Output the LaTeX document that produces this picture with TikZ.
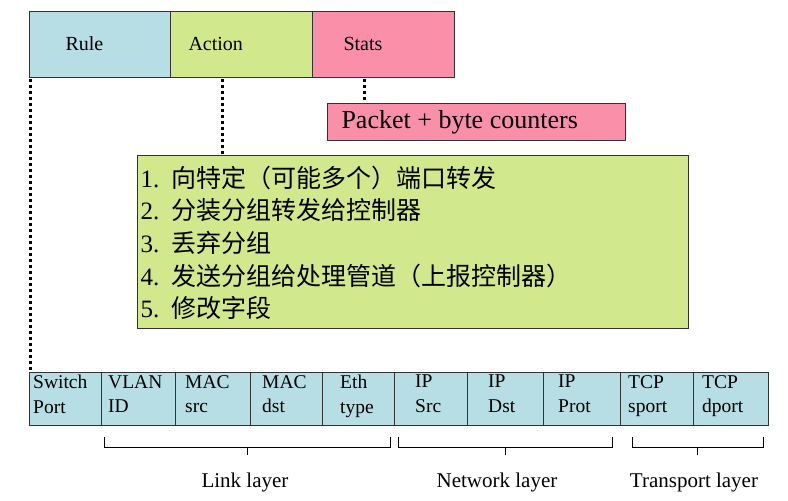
\documentclass[tikz,border=0pt]{standalone}
\usepackage{fontspec}
\setmainfont{Liberation Serif}
\newfontfamily\cjk{Noto Sans CJK SC}
\begin{document}
\begin{tikzpicture}[x=1pt,y=-1pt,
  hdr/.style={draw=black!80,line width=0.8pt,anchor=north west,inner sep=0pt},
  fld/.style={draw=black!80,line width=0.8pt,fill=cyanF,anchor=north west,inner sep=0pt,minimum height=53pt},
  ft/.style={anchor=north west,inner sep=0pt,font=\fontsize{19.5}{24.5}\selectfont,align=left},
  dot/.style={line width=3pt,dash pattern=on 3pt off 3pt},
  br/.style={line width=0.8pt},
  lab/.style={font=\fontsize{21}{23}\selectfont}]
\definecolor{cyanF}{RGB}{183,222,228}
\definecolor{greenF}{RGB}{210,232,140}
\definecolor{pinkF}{RGB}{249,143,168}
\useasboundingbox (0,0) rectangle (788,501);
\node[hdr,fill=cyanF,minimum width=141pt,minimum height=66pt] (rule) at (29,11) {};
\node[anchor=west,font=\fontsize{20}{22}\selectfont] at (62,44) {Rule};
\node[hdr,fill=greenF,minimum width=142pt,minimum height=66pt] (act) at (170,11) {};
\node[anchor=west,font=\fontsize{20}{22}\selectfont] at (185,44) {Action};
\node[hdr,fill=pinkF,minimum width=142pt,minimum height=66pt] (stats) at (312,11) {};
\node[anchor=west,font=\fontsize{20}{22}\selectfont] at (340,44) {Stats};
\node[draw=black!80,line width=0.8pt,fill=pinkF,anchor=north west,minimum width=298pt,minimum height=37pt,inner sep=0pt] (pk) at (327,103) {};
\node[anchor=west,font=\fontsize{26}{28}\selectfont] at (338,122) {Packet + byte counters};
\node[draw=black!80,line width=0.8pt,fill=greenF,anchor=north west,minimum width=551pt,minimum height=173pt,inner sep=0pt] (lst) at (137,155) {};
\foreach \y/\t in {178/{1.\ \ {\cjk 向特定（可能多个）端口转发}},210/{2.\ \ {\cjk 分装分组转发给控制器}},243/{3.\ \ {\cjk 丢弃分组}},276/{4.\ \ {\cjk 发送分组给处理管道（上报控制器）}},308/{5.\ \ {\cjk 修改字段}}}
  \node[anchor=west,font=\fontsize{25}{27}\selectfont] at (137,\y) {\t};
\node[fld,minimum width=72pt] (sp) at (29,372) {};
\node[fld,minimum width=74pt] (vl) at (101,372) {};
\node[fld,minimum width=75pt] (ms) at (175,372) {};
\node[fld,minimum width=72pt] (md) at (250,372) {};
\node[fld,minimum width=72pt] (et) at (322,372) {};
\node[fld,minimum width=73pt] (is) at (394,372) {};
\node[fld,minimum width=76pt] (id) at (467,372) {};
\node[fld,minimum width=77pt] (ip) at (543,372) {};
\node[fld,minimum width=73pt] (ts) at (620,372) {};
\node[fld,minimum width=75pt] (td) at (693,372) {};
\foreach \x/\t in {33/{Switch\\Port},108/{VLAN\\ID},185/{MAC\\src},262/{MAC\\dst},340/{Eth\\type},415/{IP\\Src},488/{IP\\Dst},558/{IP\\Prot},628/{TCP\\sport},702/{TCP\\dport}}
  \node[ft] at (\x,375) {\t};
\draw[dot] (30,79) -- (30,370);
\draw[dot] (222,79) -- (222,154);
\draw[dot] (364,79) -- (364,102);
\draw[br] (104,437) -- (104,447) -- (390,447) -- (390,437) (247,447) -- (247,455);
\draw[br] (398,437) -- (398,447) -- (612,447) -- (612,437) (505,447) -- (505,455);
\draw[br] (632,437) -- (632,447) -- (763,447) -- (763,437) (697,447) -- (697,455);
\node[lab] at (245,482) {Link layer};
\node[lab] at (497,482) {Network layer};
\node[lab] at (694,482) {Transport layer};
\end{tikzpicture}
\end{document}
